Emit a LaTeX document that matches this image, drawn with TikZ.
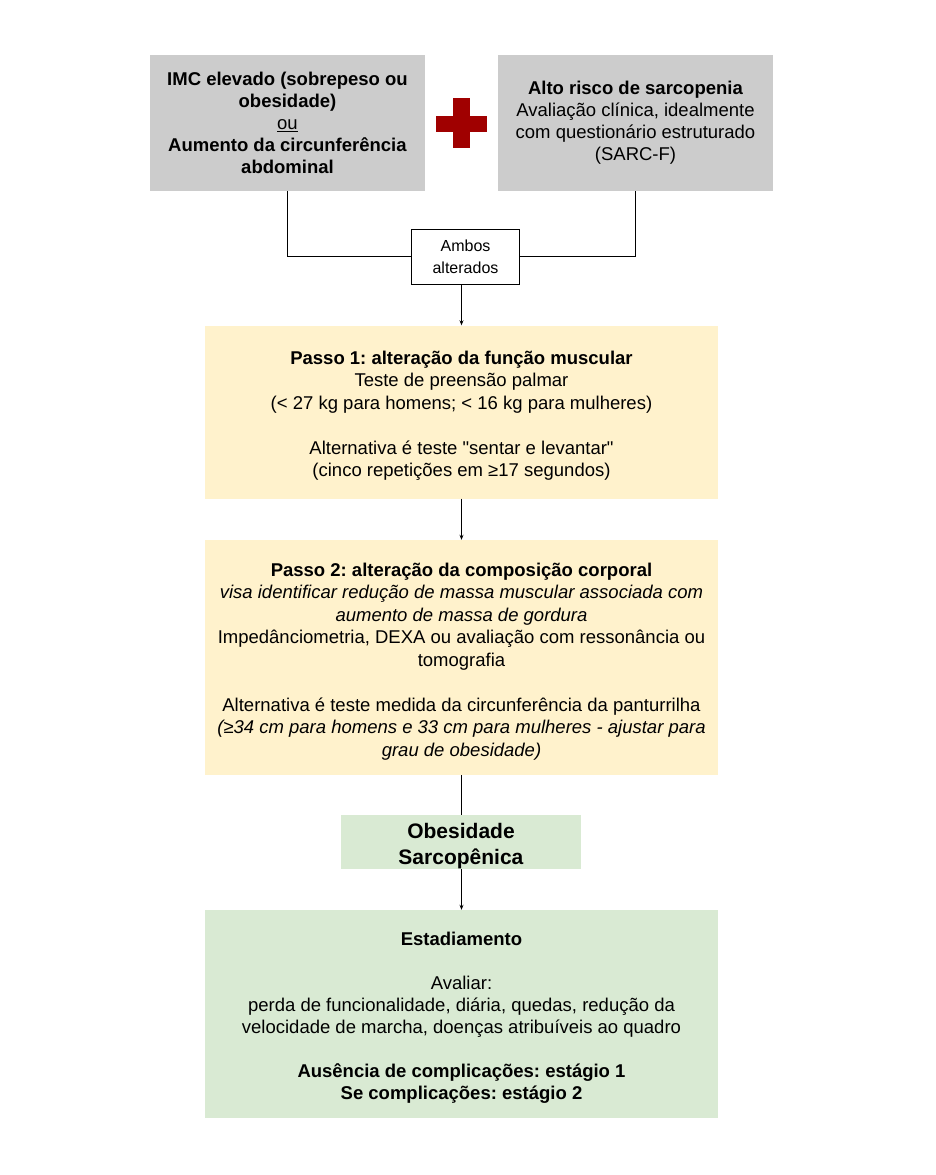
\documentclass[tikz,border=0pt]{standalone}
\usepackage{fontspec}
\setmainfont{Liberation Sans}[Ligatures=TeXOff]
\usetikzlibrary{arrows.meta}
\definecolor{graybox}{HTML}{CCCCCC}
\definecolor{yellowbox}{HTML}{FFF2CC}
\definecolor{greenbox}{HTML}{D9EAD3}
\definecolor{crossred}{HTML}{A00000}
\frenchspacing
\tikzset{
  box/.style={rectangle, inner sep=2pt, align=center, text=black},
  graynode/.style={box, fill=graybox, minimum width=275pt, minimum height=136pt, font=\fontsize{18.5}{22}\selectfont},
  yellownode/.style={box, fill=yellowbox, minimum width=513pt},
  greennode/.style={box, fill=greenbox},
  bodytext/.style={box, inner sep=0pt, yshift=-4pt, font=\fontsize{18.5}{22.5}\selectfont},
  smallbox/.style={box, draw=black, line width=0.8pt, fill=white, minimum width=108pt, minimum height=55pt, font=\fontsize{16}{22}\selectfont},
  conn/.style={draw=black, line width=0.8pt},
  arr/.style={conn, -{Stealth[length=5pt,width=4pt]}},
}
\begin{document}
\begin{tikzpicture}[x=1pt,y=-1pt]
\useasboundingbox (0,0) rectangle (935,1175);
\fill[white] (0,0) rectangle (935,1175);

\node[graynode] (imc) at (287.5,123) {\textbf{IMC elevado (sobrepeso ou}\\\textbf{obesidade)}\\\underline{ou}\\\textbf{Aumento da circunferência}\\\textbf{abdominal}};
\node[graynode] (risco) at (635.5,123) {\textbf{Alto risco de sarcopenia}\\Avaliação clínica, idealmente\\com questionário estruturado\\(SARC-F)};

\fill[crossred] (436,115.7) rectangle (486.7,131.7);
\fill[crossred] (453.3,98.3) rectangle (470,148.3);

\node[smallbox] (ambos) at (465.5,256.5) {Ambos\\alterados};

\draw[conn] (imc.south) |- (ambos.west);
\draw[conn] (risco.south) |- (ambos.east);

\node[yellownode, minimum height=173pt] (passo1) at (461.5,412) {};
\node[bodytext] (passo1t) at (passo1.center) {\textbf{Passo 1: alteração da função muscular}\\Teste de preensão palmar\\(< 27 kg para homens; < 16 kg para mulheres)\\[22.5pt]Alternativa é teste "sentar e levantar"\\(cinco repetições em ≥17 segundos)};

\node[yellownode, minimum height=235pt] (passo2) at (461.5,657.5) {};
\node[bodytext] (passo2t) at (passo2.center) {\textbf{Passo 2: alteração da composição corporal}\\\textit{visa identificar redução de massa muscular associada com}\\\textit{aumento de massa de gordura}\\Impedânciometria, DEXA ou avaliação com ressonância ou\\tomografia\\[22.5pt]Alternativa é teste medida da circunferência da panturrilha\\\textit{(≥34 cm para homens e 33 cm para mulheres - ajustar para}\\\textit{grau de obesidade)}};

\node[greennode, minimum width=240pt, minimum height=54pt] (obes) at (461,842) {};
\node[bodytext, font=\fontsize{21}{26.5}\selectfont] (obest) at (obes.center) {\textbf{Obesidade}\\\textbf{Sarcopênica}};

\node[greennode, minimum width=513pt, minimum height=208pt] (estad) at (461.5,1014) {};
\node[bodytext, font=\fontsize{18.5}{22}\selectfont] (estadt) at (estad.center) {\textbf{Estadiamento}\\[22pt]Avaliar:\\perda de funcionalidade, diária, quedas, redução da\\velocidade de marcha, doenças atribuíveis ao quadro\\[22pt]\textbf{Ausência de complicações: estágio 1}\\\textbf{Se complicações: estágio 2}};

\draw[arr] (ambos.south -| passo1.north) -- (passo1.north);
\draw[arr] (passo1.south) -- (passo2.north);
\draw[conn] (passo2.south) -- (obes.north -| passo2.south);
\draw[arr] (obes.south -| passo2.south) -- (estad.north);
\end{tikzpicture}
\end{document}
